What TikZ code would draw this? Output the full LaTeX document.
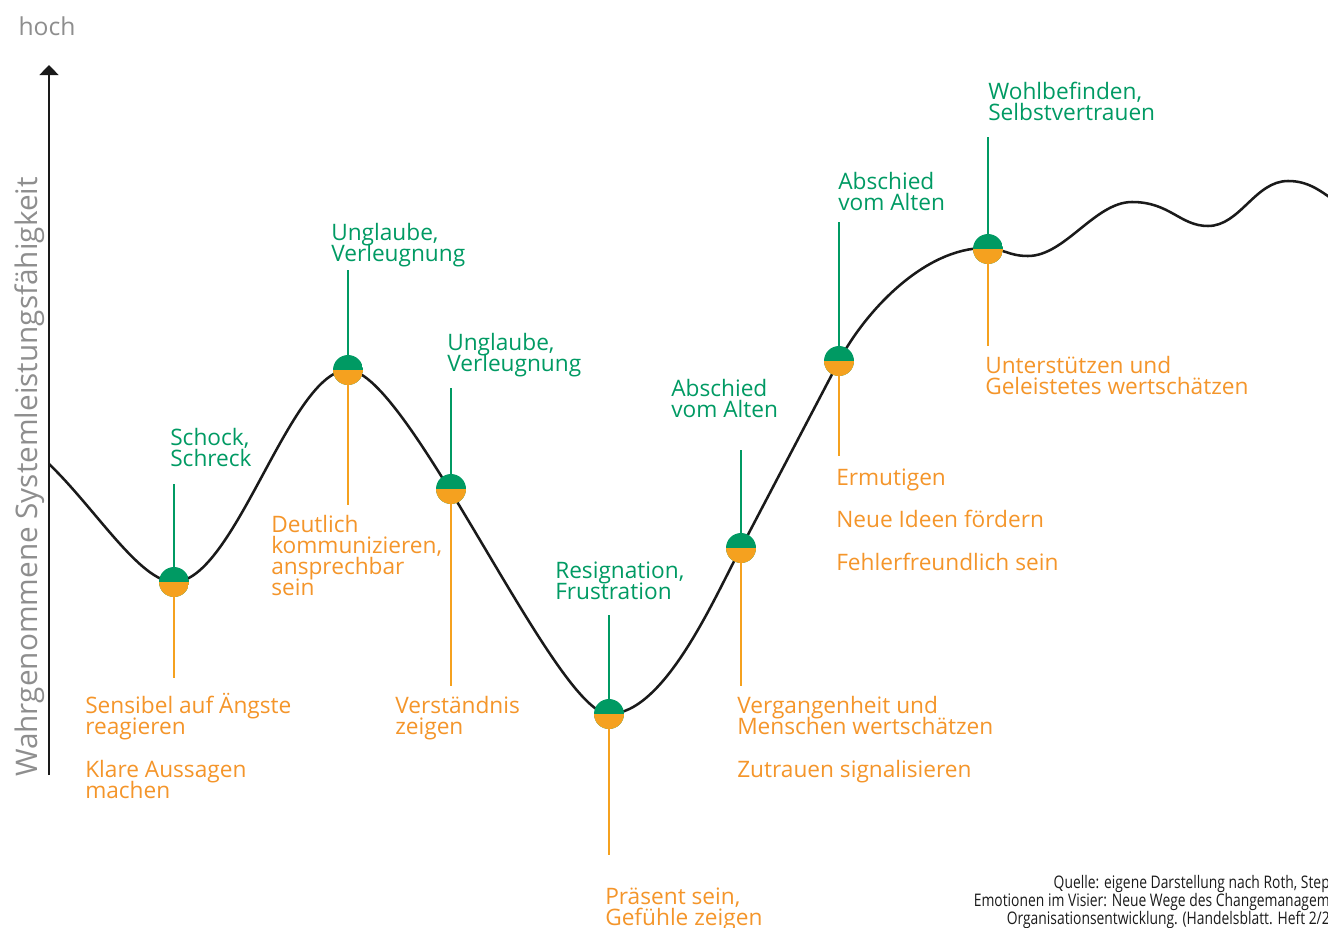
\documentclass[tikz,border=0pt]{standalone}
\usepackage{fontspec}
\setmainfont{Open Sans}
\newfontfamily\srcfont[FakeStretch=0.8]{Open Sans}
\usetikzlibrary{arrows.meta}
\definecolor{ink}{HTML}{1A1A1A}
\definecolor{leaf}{HTML}{009A63}
\definecolor{amber}{HTML}{F5A11F}
\definecolor{amtext}{HTML}{F4952A}
\definecolor{mist}{HTML}{8E8E8E}
% fixed leading, even where descenders meet ascenders
\newcommand\tightlines{\lineskiplimit=-20pt\relax}

\begin{document}
\begin{tikzpicture}[
  x=0.75pt, y=-0.75pt,
  feel/.style={text=leaf, anchor=base west, align=left, inner sep=0pt,
               font=\fontsize{17}{15.75}\selectfont\tightlines},
  act/.style={feel, text=amtext},
  dot/.style={circle, inner sep=0pt, minimum size=22.5pt,
    path picture={
      \fill[leaf] (path picture bounding box.south west) rectangle (path picture bounding box.north east);
      \fill[amber] (path picture bounding box.west) rectangle (path picture bounding box.south east);}},
  up/.style={draw=leaf, line width=2pt},
  down/.style={draw=amber, line width=2pt},
  curve/.style={draw=ink, line width=1.9pt},
  axis/.style={draw=ink, line width=1.9pt, -{Triangle[width=14pt,length=7.5pt]}},
  hint/.style={text=mist, inner sep=0pt},
  source/.style={anchor=base east, inner sep=0pt, text=ink,
                 font=\srcfont\fontsize{13}{15}\selectfont},
]
\useasboundingbox (0,0) rectangle (1328,928);

%% axis
\coordinate (origin) at (49,775);
\coordinate (tip) at (49,65);
\draw[axis] (origin) -- (tip);
\node[hint, anchor=base, font=\fontsize{18.5}{22}\selectfont] (high) at (47,36) {hoch};
\node[hint, anchor=base, rotate=90, font=\fontsize{22.3}{26}\selectfont] (ylabel) at (37,477)
  {Wahrgenommene Systemleistungsfähigkeit};

%% change curve
\draw[curve] (49,464) .. controls (95,508) and (140,582) .. (174,582)
  .. controls (235,582) and (290,370) .. (348,370)
  .. controls (408,370) and (556,714) .. (609,714)
  .. controls (665,714) and (715,596) .. (741,548)
  -- (839,361)
  .. controls (866,310) and (925,248) .. (985,248)
  .. controls (1003,248) and (1008,256) .. (1028,256)
  .. controls (1065,256) and (1095,202) .. (1132,202)
  .. controls (1170,202) and (1180,226) .. (1208,226)
  .. controls (1240,226) and (1255,181) .. (1288,181)
  .. controls (1308,181) and (1320,190) .. (1340,205);

%% phases: centre / top of stem / bottom of stem
\foreach \i/\x/\y/\t/\b in {1/174/582/484/678, 2/348/370/270/505, 3/451/489/388/686,
    4/609/714/615/855, 5/741/548/450/686, 6/839/361/222/456, 7/988/249/137/346}{
  \coordinate (c\i) at (\x,\y);
  \coordinate (t\i) at (\x,\t);
  \coordinate (b\i) at (\x,\b);
  \draw[up] (c\i) -- (t\i);
  \draw[down] (c\i) -- (b\i);
  \node[dot] (m\i) at (c\i) {};
}

%% emotions (placed at the baseline of the last line)
\node[feel] (e1) at (170,466) {Schock,\\Schreck};
\node[feel] (e2) at (331,261) {Unglaube,\\Verleugnung};
\node[feel] (e3) at (447,371) {Unglaube,\\Verleugnung};
\node[feel] (e4) at (555,599) {Resignation,\\Frustration};
\node[feel] (e5) at (671,417) {Abschied\\vom Alten};
\node[feel] (e6) at (838,210) {Abschied\\vom Alten};
\node[feel] (e7) at (988,120) {Wohlbefinden,\\Selbstvertrauen};

%% what helps
\node[act] (a1) at (85,734) {Sensibel auf Ängste\\reagieren};
\node[act] (a1b) at (85,798) {Klare Aussagen\\machen};
\node[act] (a2) at (271,595) {Deutlich\\kommunizieren,\\ansprechbar\\sein};
\node[act] (a3) at (395,734) {Verständnis\\zeigen};
\node[act] (a4) at (605,925) {Präsent sein,\\Gefühle zeigen};
\node[act] (a5) at (737,734) {Vergangenheit und\\Menschen wertschätzen};
\node[act] (a5b) at (737,777) {Zutrauen signalisieren};
\node[act] (a6) at (836,485) {Ermutigen};
\node[act] (a6b) at (836,527) {Neue Ideen fördern};
\node[act] (a6c) at (836,570) {Fehlerfreundlich sein};
\node[act] (a7) at (985,394) {Unterstützen und\\Geleistetes wertschätzen};

%% source
\node[source] (src1) at (1330,888) {Quelle: eigene Darstellung nach Roth, Step};
\node[source] (src2) at (1330,906) {Emotionen im Visier: Neue Wege des Changemanagem};
\node[source] (src3) at (1330,924) {Organisationsentwicklung. (Handelsblatt. Heft 2/2};
\end{tikzpicture}
\end{document}
